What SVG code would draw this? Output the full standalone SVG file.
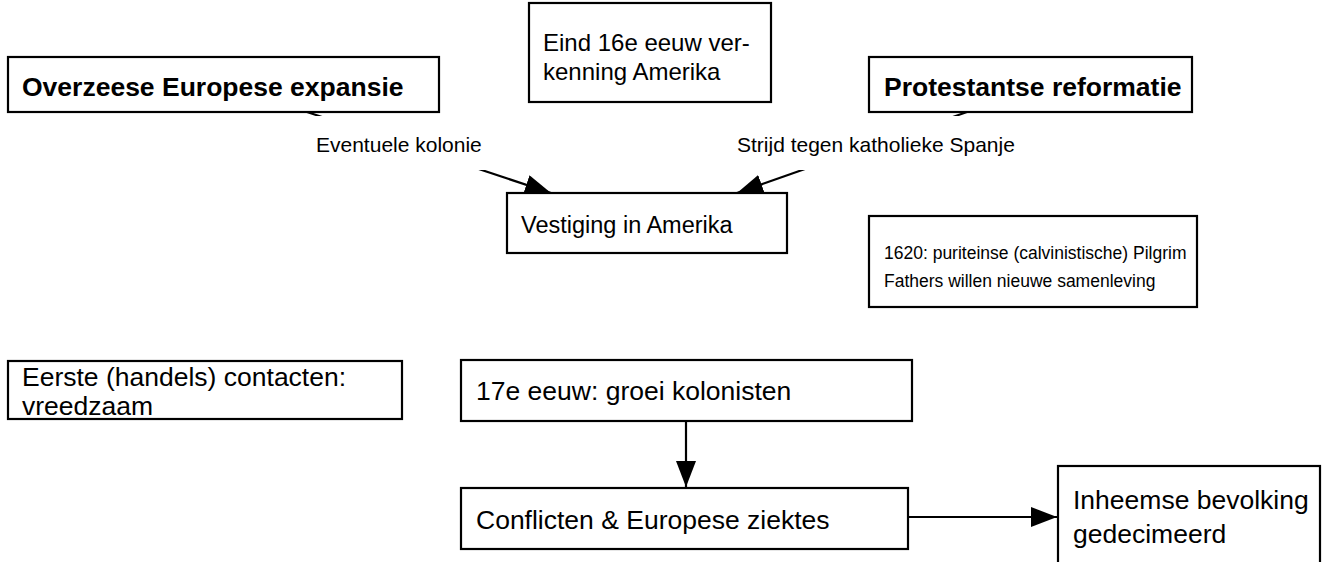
<svg xmlns="http://www.w3.org/2000/svg" width="1332" height="562" viewBox="0 0 1332 562">
<defs>
<style>
.box{fill:#fff;stroke:#000;stroke-width:2.2}
.t{font-family:"Liberation Sans",Arial,Helvetica,sans-serif;fill:#000}
.b{font-weight:bold;font-size:26.5px}
.r{font-size:26.5px}
.lbl{font-size:21px}
.conn{stroke:#000;stroke-width:2.2;fill:none}
</style>
<marker id="ah" markerUnits="userSpaceOnUse" markerWidth="28" markerHeight="22" refX="26" refY="10" orient="auto">
<path d="M0,0 L26,10 L0,20 z" fill="#000"/>
</marker>
</defs>
<rect width="1332" height="562" fill="#fff"/>
<g id="connectors">
<line class="conn" x1="307" y1="112" x2="551" y2="193" marker-end="url(#ah)"/>
<line class="conn" x1="967" y1="112" x2="737" y2="193" marker-end="url(#ah)"/>
<line class="conn" x1="686" y1="421" x2="686" y2="487" marker-end="url(#ah)"/>
<line class="conn" x1="908" y1="517" x2="1057" y2="517" marker-end="url(#ah)"/>
<g id="label-kolonie">
<rect x="312" y="116" width="175" height="54" fill="#fff"/>
<text class="t lbl" x="316" y="152">Eventuele kolonie</text>
</g>
<g id="label-spanje">
<rect x="733" y="116" width="288" height="54" fill="#fff"/>
<text class="t lbl" x="737" y="152">Strijd tegen katholieke Spanje</text>
</g>
</g>
<g id="overzeese">
<rect class="box" x="8" y="57" width="431" height="55"/>
<text class="t b" x="22" y="96">Overzeese Europese expansie</text>
</g>
<g id="eind16e">
<rect class="box" x="529" y="3" width="242" height="99"/>
<text class="t" font-size="24" x="543" y="51">Eind 16e eeuw ver-</text>
<text class="t" font-size="24" x="543" y="80">kenning Amerika</text>
</g>
<g id="protestantse">
<rect class="box" x="869" y="57" width="323" height="55"/>
<text class="t b" x="884" y="96">Protestantse reformatie</text>
</g>
<g id="vestiging">
<rect class="box" x="507" y="193" width="280" height="60"/>
<text class="t" font-size="23.5" x="521" y="233">Vestiging in Amerika</text>
</g>
<g id="pilgrim">
<rect class="box" x="869" y="216" width="328" height="91"/>
<text class="t" font-size="17.5" x="884" y="259">1620: puriteinse (calvinistische) Pilgrim</text>
<text class="t" font-size="17.5" x="884" y="287">Fathers willen nieuwe samenleving</text>
</g>
<g id="eerste">
<rect class="box" x="8" y="361" width="394" height="58"/>
<text class="t r" x="22" y="386">Eerste (handels) contacten:</text>
<text class="t r" x="22" y="415">vreedzaam</text>
</g>
<g id="groei">
<rect class="box" x="461" y="360" width="451" height="61"/>
<text class="t r" x="476" y="400">17e eeuw: groei kolonisten</text>
</g>
<g id="conflicten">
<rect class="box" x="461" y="488" width="447" height="61"/>
<text class="t r" x="476" y="529">Conflicten &amp; Europese ziektes</text>
</g>
<g id="inheemse">
<rect class="box" x="1058" y="466" width="262" height="110"/>
<text class="t r" x="1073" y="509">Inheemse bevolking</text>
<text class="t r" x="1073" y="543">gedecimeerd</text>
</g>
</svg>
